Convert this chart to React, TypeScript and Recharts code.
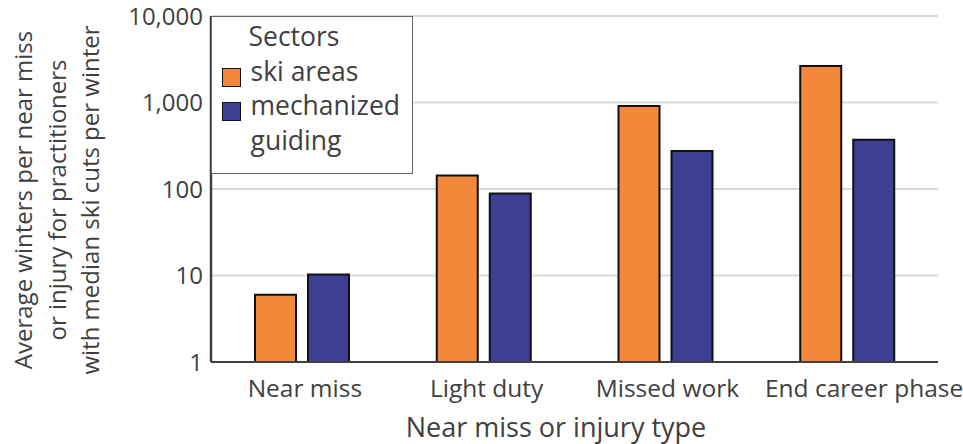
import React from "react"
import {
    BarChart,
    Bar,
    XAxis,
    YAxis,
    CartesianGrid,
    Legend,
} from "recharts"

const categories = ["Near miss", "Light duty", "Missed work", "End career phase"]
const skiAreas = [6, 143, 911, 2640]
const mechanizedGuiding = [10.3, 89, 275, 370]
const yTicks = [1, 10, 100, 1000, 10000]
const seriesNames = ["ski areas", "mechanized guiding"]

const data = categories.map((name, i) => ({
    name,
    ski: skiAreas[i],
    mech: mechanizedGuiding[i],
}))

const TEXT = "#404040"
const FONT = "Open Sans"

// labels in the original sit a little right of the bar groups
const tickShift = [3, 3, 2, 17]

function CategoryTick({ x, y, payload, index }: any) {
    return (
        <text
            x={x + (tickShift[index] || 0)}
            y={y}
            dy="0.71em"
            textAnchor="middle"
            fill={TEXT}
            fontSize={24.5}
            fontFamily={FONT}
        >
            {payload.value}
        </text>
    )
}

function YTitle() {
    return (
        <text transform="rotate(-90)" textAnchor="middle" fill={TEXT} fontSize={24} fontFamily={FONT}>
            <tspan x={-200} y={32}>Average winters per near miss</tspan>
            <tspan x={-200} y={66}>or injury for practitioners</tspan>
            <tspan x={-200} y={99}>with median ski cuts per winter</tspan>
        </text>
    )
}

function XTitle() {
    return (
        <text x={556} y={437} textAnchor="middle" fill={TEXT} fontSize={27} fontFamily={FONT}>
            Near miss or injury type
        </text>
    )
}

function LegendBox({ payload }: any) {
    const items = [...(payload || [])].sort(
        (a: any, b: any) => seriesNames.indexOf(a.value) - seriesNames.indexOf(b.value)
    )
    return (
        <div
            style={{
                width: 202,
                height: 158,
                boxSizing: "border-box",
                border: "1.5px solid #666",
                background: "#fff",
                fontFamily: FONT,
                fontSize: 26.5,
                lineHeight: "34.5px",
                color: TEXT,
                padding: "2px 0 0 9.5px",
            }}
        >
            <div style={{ paddingLeft: 27 }}>Sectors</div>
            {items.map((e: any) => (
                <div key={e.value} style={{ display: "flex", alignItems: "flex-start" }}>
                    <span
                        style={{
                            width: 19,
                            height: 19,
                            marginTop: 14,
                            background: e.color,
                            border: "1.5px solid #111",
                            boxSizing: "border-box",
                            flex: "none",
                        }}
                    />
                    <span style={{ marginLeft: 10 }}>{e.value}</span>
                </div>
            ))}
        </div>
    )
}

export default function App() {
    return (
        <div style={{ position: "absolute", left: 0, top: 0, fontFamily: FONT }}>
            <BarChart
                width={963}
                height={444}
                data={data}
                barSize={41}
                barGap={12}
                margin={{ top: 16, right: 25, left: 0, bottom: 0 }}
            >
                <CartesianGrid vertical={false} stroke="#d9d9d9" strokeWidth={2} />

                <XAxis
                    dataKey="name"
                    height={82}
                    tickLine={false}
                    tickSize={6}
                    tickMargin={12}
                    interval={0}
                    axisLine={{ stroke: "#404040", strokeWidth: 2 }}
                    tick={<CategoryTick />}
                    label={<XTitle />}
                />
                <XAxis
                    xAxisId="top"
                    orientation="top"
                    dataKey="name"
                    height={0}
                    tick={false}
                    tickLine={false}
                    axisLine={{ stroke: "#595959", strokeWidth: 1.5 }}
                />
                <YAxis
                    type="number"
                    scale="log"
                    domain={[1, 10000]}
                    ticks={yTicks}
                    interval={0}
                    allowDataOverflow
                    width={211}
                    tickLine={false}
                    axisLine={{ stroke: "#404040", strokeWidth: 2.5 }}
                    tick={{ fill: TEXT, fontSize: 24, fontFamily: FONT }}
                    tickFormatter={(v: number) => v.toLocaleString("en-US")}
                    label={<YTitle />}
                />
                <YAxis
                    yAxisId="right"
                    orientation="right"
                    width={0}
                    tick={false}
                    tickLine={false}
                    axisLine={{ stroke: "#606060", strokeWidth: 2 }}
                />

                <Legend
                    layout="vertical"
                    align="center"
                    verticalAlign="middle"
                    wrapperStyle={{ top: 16, left: 211, width: 202, height: 158 }}
                    content={<LegendBox />}
                />

                <Bar dataKey="ski" name={seriesNames[0]} fill="#F4883A" stroke="#111" strokeWidth={2} isAnimationActive={false} />
                <Bar dataKey="mech" name={seriesNames[1]} fill="#3D3F94" stroke="#111" strokeWidth={2} isAnimationActive={false} />
            </BarChart>
        </div>
    )
}
